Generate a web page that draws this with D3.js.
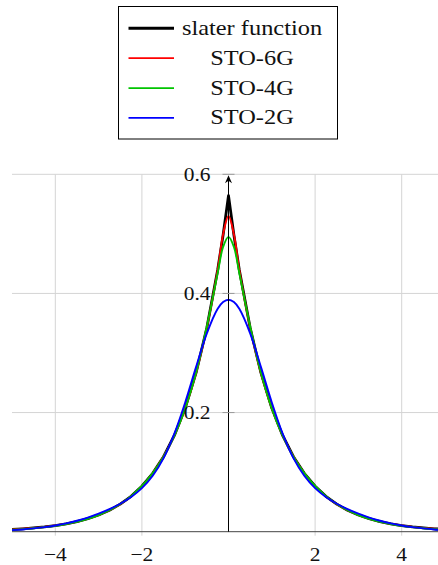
<!DOCTYPE html>
<html>
<head>
<meta charset="utf-8">
<script src="https://cdn.jsdelivr.net/npm/d3@7"></script>
<style>
  body { margin: 0; background: #fff; }
  svg { display: block; }
  text { font-family: "Liberation Serif", "DejaVu Serif", serif; fill: #111; }
</style>
</head>
<body>
<script>
// sample points (x) and the four curves
const xs = [-5, -4.75, -4.5, -4.25, -4, -3.75, -3.5, -3.25, -3, -2.75, -2.5, -2.25, -2, -1.75, -1.5, -1.25, -1, -0.75, -0.5, -0.25, -0.125,
            0, 0.125, 0.25, 0.5, 0.75, 1, 1.25, 1.5, 1.75, 2, 2.25, 2.5, 2.75, 3, 3.25, 3.5, 3.75, 4, 4.25, 4.5, 4.75, 5];

const slater = [0.0038, 0.0049, 0.0063, 0.0080, 0.0103, 0.0133, 0.0170, 0.0219, 0.0281, 0.0361, 0.0463, 0.0595, 0.0764, 0.0980, 0.1259, 0.1616, 0.2076, 0.2665, 0.3422, 0.4394, 0.4979,
                0.5642, 0.4979, 0.4394, 0.3422, 0.2665, 0.2076, 0.1616, 0.1259, 0.0980, 0.0764, 0.0595, 0.0463, 0.0361, 0.0281, 0.0219, 0.0170, 0.0133, 0.0103, 0.0080, 0.0063, 0.0049, 0.0038];

const sto6g = [0.0038, 0.0049, 0.0062, 0.0081, 0.0104, 0.0131, 0.0169, 0.0219, 0.0282, 0.0362, 0.0463, 0.0593, 0.0762, 0.0981, 0.1261, 0.1618, 0.2074, 0.2662, 0.3426, 0.4395, 0.4991,
               0.5301, 0.4991, 0.4395, 0.3426, 0.2662, 0.2074, 0.1618, 0.1261, 0.0981, 0.0762, 0.0593, 0.0463, 0.0362, 0.0282, 0.0219, 0.0169, 0.0131, 0.0104, 0.0081, 0.0062, 0.0049, 0.0038];

const sto4g = [0.0033, 0.0044, 0.0058, 0.0076, 0.0099, 0.0129, 0.0167, 0.0216, 0.0279, 0.0360, 0.0464, 0.0597, 0.0767, 0.0984, 0.1259, 0.1612, 0.2071, 0.2668, 0.3445, 0.4340, 0.4780,
               0.4950, 0.4780, 0.4340, 0.3445, 0.2668, 0.2071, 0.1612, 0.1259, 0.0984, 0.0767, 0.0597, 0.0464, 0.0360, 0.0279, 0.0216, 0.0167, 0.0129, 0.0099, 0.0076, 0.0058, 0.0044, 0.0033];

const sto2g = [0.0027, 0.0038, 0.0055, 0.0076, 0.0104, 0.0139, 0.0184, 0.0237, 0.0302, 0.0378, 0.0469, 0.0582, 0.0731, 0.0939, 0.1236, 0.1646, 0.2170, 0.2763, 0.3329, 0.3742, 0.3855,
               0.3894, 0.3855, 0.3742, 0.3329, 0.2763, 0.2170, 0.1646, 0.1236, 0.0939, 0.0731, 0.0582, 0.0469, 0.0378, 0.0302, 0.0237, 0.0184, 0.0139, 0.0104, 0.0076, 0.0055, 0.0038, 0.0027];

const seriesNames = ['slater function', 'STO-6G', 'STO-4G', 'STO-2G'];
const seriesColors = ['#000000', '#ff0000', '#00c400', '#0000ff'];
const xTicks = [-4, -2, 2, 4];
const yTicks = [0.2, 0.4, 0.6];

const W = 438, H = 565;
const plot = { left: 12, right: 445, top: 174.3, bottom: 531.7 };

const svg = d3.select('body').append('svg')
    .attr('width', W)
    .attr('height', H);

const x = d3.scaleLinear().domain([-5, 5]).range([plot.left, plot.right]);
const y = d3.scaleLinear().domain([0, 0.6]).range([plot.bottom, plot.top]);

// grid
const grid = svg.append('g').attr('stroke', '#d4d4d4').attr('stroke-width', 1);
grid.selectAll('line.h').data(yTicks).enter().append('line')
    .attr('x1', plot.left).attr('x2', plot.right)
    .attr('y1', d => y(d)).attr('y2', d => y(d));
grid.selectAll('line.v').data(xTicks).enter().append('line')
    .attr('x1', d => x(d)).attr('x2', d => x(d))
    .attr('y1', plot.top).attr('y2', plot.bottom + 4);

// x axis line (middle style)
svg.append('line')
    .attr('x1', plot.left).attr('x2', plot.right)
    .attr('y1', y(0)).attr('y2', y(0))
    .attr('stroke', '#444').attr('stroke-width', 1);

// curves
const series = [slater, sto6g, sto4g, sto2g];
svg.append('defs').append('clipPath').attr('id', 'clip')
  .append('rect')
    .attr('x', plot.left).attr('y', 0)
    .attr('width', plot.right - plot.left).attr('height', plot.bottom + 2);

const curves = svg.append('g').attr('clip-path', 'url(#clip)');
series.forEach((vals, k) => {
    const line = d3.line()
        .x((_, i) => x(xs[i]))
        .y(d => y(d))
        .curve(k === 0 ? d3.curveLinear : d3.curveCatmullRom.alpha(0.5));
    curves.append('path')
        .datum(vals)
        .attr('d', line)
        .attr('fill', 'none')
        .attr('stroke', seriesColors[k])
        .attr('stroke-width', k === 0 ? 2.8 : 1.9)
        .attr('stroke-linejoin', 'round');
});

// y axis with arrow
svg.append('line')
    .attr('x1', x(0)).attr('x2', x(0))
    .attr('y1', y(0)).attr('y2', plot.top + 4)
    .attr('stroke', '#000').attr('stroke-width', 1);
svg.append('path')
    .attr('d', `M${x(0)},${plot.top + 1} L${x(0) - 3.5},${plot.top + 9} L${x(0)},${plot.top + 6.5} L${x(0) + 3.5},${plot.top + 9} Z`)
    .attr('fill', '#000');

// y tick marks + labels (text stretched a little to match the wider TeX font)
svg.selectAll('line.yt').data(yTicks).enter().append('line')
    .attr('x1', x(0) - 6).attr('x2', x(0) + 6)
    .attr('y1', d => y(d)).attr('y2', d => y(d))
    .attr('stroke', '#999').attr('stroke-width', 1);

svg.selectAll('text.yl').data(yTicks).enter().append('text')
    .attr('transform', d => `translate(${x(0) - 18},${y(d)}) scale(1.13,1)`)
    .attr('dy', '0.35em')
    .attr('text-anchor', 'end')
    .attr('font-size', 19)
    .text(d => d3.format('.1f')(d));

// x tick labels
svg.selectAll('text.xl').data(xTicks).enter().append('text')
    .attr('transform', d => `translate(${x(d)},561) scale(1.13,1)`)
    .attr('text-anchor', 'middle')
    .attr('font-size', 19)
    .text(d => (d < 0 ? '\u2212' : '') + Math.abs(d));

// legend
const legend = svg.append('g');
legend.append('rect')
    .attr('x', 118.5).attr('y', 6.5)
    .attr('width', 219).attr('height', 132.5)
    .attr('fill', '#fff')
    .attr('stroke', '#000').attr('stroke-width', 1);

const rowY = [28.3, 58.2, 88.1, 117.8];
seriesNames.forEach((name, k) => {
    legend.append('line')
        .attr('x1', 128.5).attr('x2', 174)
        .attr('y1', rowY[k]).attr('y2', rowY[k])
        .attr('stroke', seriesColors[k])
        .attr('stroke-width', k === 0 ? 3 : 1.8);
    legend.append('text')
        .attr('transform', `translate(252,${rowY[k]}) scale(1.22,1)`)
        .attr('dy', '0.33em')
        .attr('text-anchor', 'middle')
        .attr('font-size', 20)
        .text(name);
});
</script>
</body>
</html>
